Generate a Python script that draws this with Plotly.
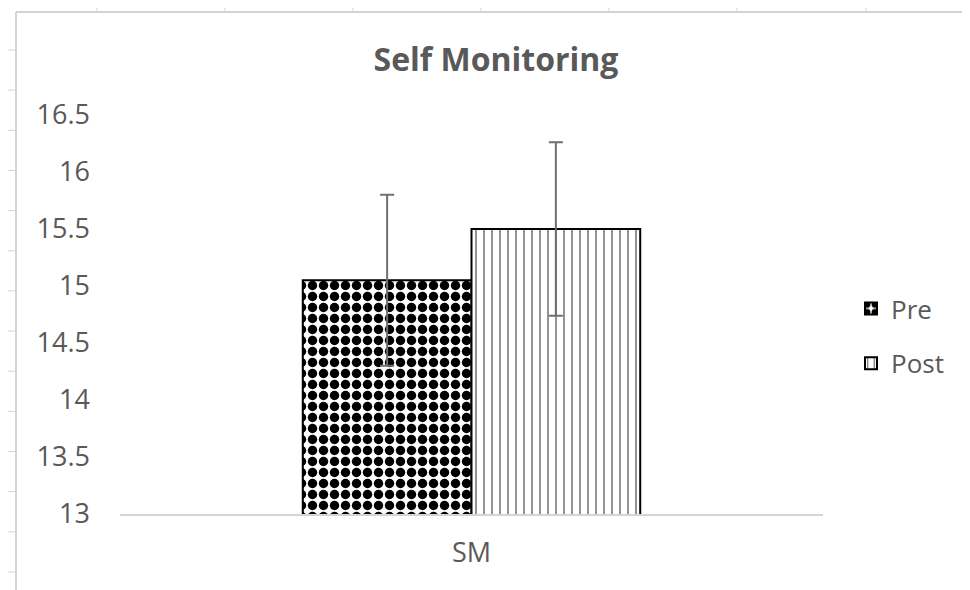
import plotly.graph_objects as go

categories = ["SM"]
series_names = ["Pre", "Post"]
pre_values = [15.05]
post_values = [15.5]
pre_err = [0.75]
post_err = [0.76]
y_ticks = [13, 13.5, 14, 14.5, 15, 15.5, 16, 16.5]
y_tick_labels = ["13", "13.5", "14", "14.5", "15", "15.5", "16", "16.5"]

OFF = 8  # page body margin
W, H = 970 - OFF, 590 - OFF
L, R, T, B = 120 - OFF, 823 - OFF, 115 - OFF, 514 - OFF  # plot area in figure pixels

def px(x):
    return (x - OFF - L) / (R - L)

def py(y):
    return (B - (y - OFF)) / (B - T)

fig = go.Figure()
fig.add_trace(go.Bar(
    x=categories, y=pre_values, name=series_names[0], legendgroup="a",
    marker=dict(color="white", line=dict(color="black", width=2),
                pattern=dict(shape=".", fgcolor="black", bgcolor="white", size=11, solidity=0.58, fillmode="replace")),
    error_y=dict(type="data", array=pre_err, color="#6f6f6f", thickness=2, width=7),
))
fig.add_trace(go.Bar(
    x=categories, y=post_values, name=series_names[1], legendgroup="b",
    marker=dict(color="white", line=dict(color="black", width=2),
                pattern=dict(shape="|", fgcolor="#555555", bgcolor="white", size=8, solidity=0.16, fillmode="replace")),
    error_y=dict(type="data", array=post_err, color="#6f6f6f", thickness=2, width=7),
))

gray = "#d4d4d4"
shapes = [
    dict(type="line", xref="paper", yref="paper", x0=px(16), x1=px(970), y0=py(12), y1=py(12),
         line=dict(color=gray, width=2)),
    dict(type="line", xref="paper", yref="paper", x0=px(16), x1=px(16), y0=py(12), y1=py(590),
         line=dict(color=gray, width=2)),
]
for xt in [97, 225, 353, 481, 609, 737, 866]:
    shapes.append(dict(type="line", xref="paper", yref="paper", x0=px(xt), x1=px(xt), y0=py(8), y1=py(12),
                       line=dict(color=gray, width=1)))
for i in range(14):
    yt = 50 + i * 40.15
    shapes.append(dict(type="line", xref="paper", yref="paper", x0=px(8), x1=px(16), y0=py(yt), y1=py(yt),
                       line=dict(color=gray, width=1)))

fig.update_layout(
    width=W, height=H,
    margin=dict(l=L, r=W - R, t=T, b=H - B, pad=0),
    paper_bgcolor="white", plot_bgcolor="white",
    font=dict(family="Open Sans", size=27, color="#595959"),
    title=dict(text="<b>Self Monitoring</b>", x=px(496), xref="paper", xanchor="center",
               y=1 - (60 - OFF) / H, yanchor="middle", font=dict(size=32, color="#595959")),
    barmode="group", bargap=0.52, bargroupgap=0,
    showlegend=True,
    legend=dict(x=px(851), y=py(336), xanchor="left", yanchor="middle", tracegroupgap=18,
                font=dict(size=26, color="#595959"), bgcolor="rgba(0,0,0,0)"),
    shapes=shapes,
)
fig.update_xaxes(showline=True, linecolor=gray, linewidth=2, showgrid=False, ticks="",
                 tickfont=dict(size=27), ticklabelstandoff=14)
fig.update_yaxes(range=[13, 16.5], tickvals=y_ticks, ticktext=y_tick_labels, showgrid=False,
                 zeroline=False, showline=False, ticks="", ticklabelstandoff=29, tickfont=dict(size=27))

fig.write_html("out.html")
